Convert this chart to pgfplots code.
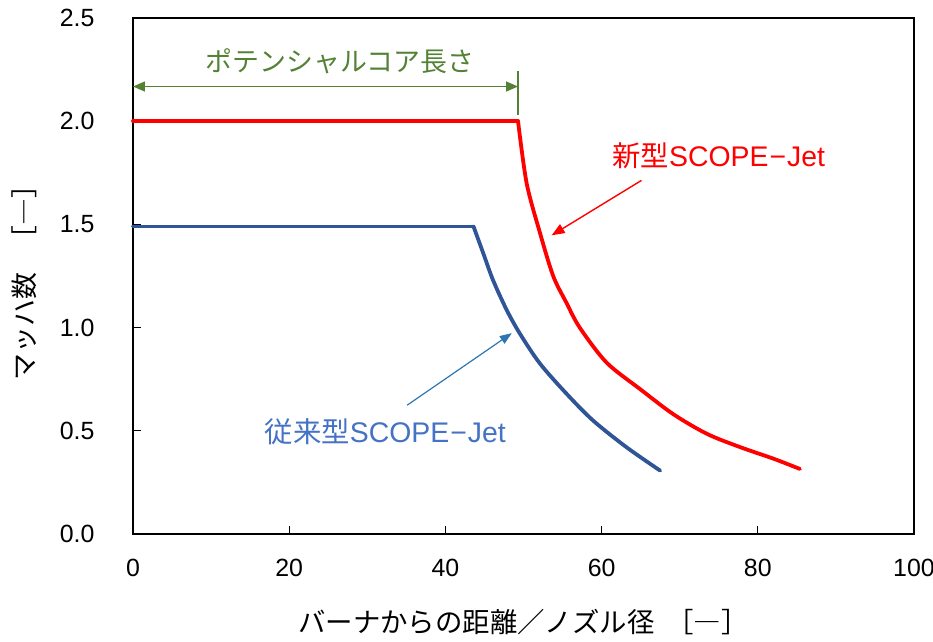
\documentclass[border=0pt]{standalone}
\usepackage{pgfplots}
\pgfplotsset{compat=1.18}
\usepackage{fontspec}
\setmainfont{Liberation Sans}
\newfontfamily\jp{Noto Sans CJK JP}
\usetikzlibrary{arrows.meta}
\definecolor{newred}{HTML}{FF0000}
\definecolor{oldblue}{HTML}{2F5597}
\definecolor{txtblue}{HTML}{4472C4}
\definecolor{arrblue}{HTML}{2E75B6}
\definecolor{grn}{HTML}{548235}
\begin{document}
\begin{tikzpicture}
\begin{axis}[
  name=ax,
  scale only axis,
  width=781bp, height=516bp,
  xmin=0, xmax=100, ymin=0, ymax=2.5,
  xtick={0,20,...,100},
  ytick={0,0.5,...,2.5},
  tick align=inside,
  major tick length=8bp,
  tick style={black, line width=1bp},
  axis line style={black, line width=2bp},
  xtick pos=bottom, ytick pos=left,
  /pgf/number format/assume math mode=true,
  ticklabel style={font=\fontsize{25}{30}\selectfont},
  xticklabel style={yshift=-22bp, /pgf/number format/fixed, /pgf/number format/precision=0},
  yticklabel style={xshift=-35bp, /pgf/number format/fixed, /pgf/number format/fixed zerofill, /pgf/number format/precision=1},
  xlabel={\jp\fontsize{27.5}{32}\selectfont バーナからの距離／ノズル径\hspace{12bp}［―］},
  ylabel={\jp\fontsize{27}{32}\selectfont マッハ数\hspace{20bp}［―］},
  xlabel style={yshift=-25bp},
  ylabel style={yshift=16bp},
  clip=false,
]
% Conventional SCOPE-Jet
\addplot[oldblue, line width=3.8bp, line cap=round] coordinates {
 (0,1.49) (43.6,1.49)
};
\addplot[oldblue, line width=3.8bp, line cap=round, smooth, tension=0.5] coordinates {
 (43.6,1.49) (44.85,1.36) (46.1,1.23) (47.85,1.085) (49.55,0.97)
 (52.1,0.826) (55.5,0.68) (58.9,0.55) (63.2,0.42) (67.5,0.307)
};
% New SCOPE-Jet
\addplot[newred, line width=3.8bp, line cap=round] coordinates {
 (0,2.0) (49.3,2.0)
};
\addplot[newred, line width=3.8bp, line cap=round, smooth, tension=0.5] coordinates {
 (49.3,2.0) (50.4,1.70) (52.1,1.46) (53.8,1.25) (55.5,1.12) (57.2,1.00)
 (60.65,0.83) (65.0,0.70) (69.2,0.58) (73.5,0.485) (77.8,0.42) (82.0,0.365) (85.4,0.315)
};
% potential core annotation
\draw[grn, line width=1.5bp, {Triangle[length=12bp,width=10bp]}-{Triangle[length=12bp,width=10bp]}]
  (axis cs:0,2.168) -- (axis cs:49.3,2.168);
\draw[grn, line width=1.5bp] (axis cs:49.3,2.245) -- (axis cs:49.3,2.03);
\node[grn, font=\jp\fontsize{27}{32}\selectfont] at (axis cs:26.5,2.29) {ポテンシャルコア長さ};
% labels
\node[newred, font=\fontsize{28.5}{34}\selectfont] at (axis cs:75.0,1.834) {{\jp 新型}SCOPE\kern1bp−\kern1bpJet};
\draw[newred, line width=1.4bp, -{Triangle[length=13bp,width=10bp]}]
  (axis cs:65.1,1.713) -- (axis cs:53.6,1.447);
\node[txtblue, font=\fontsize{28.5}{34}\selectfont] at (axis cs:32.3,0.494) {{\jp 従来型}SCOPE\kern1bp−\kern1bpJet};
\draw[arrblue, line width=1.2bp, -{Triangle[length=12bp,width=9bp]}]
  (axis cs:35.1,0.624) -- (axis cs:48.5,0.973);
\coordinate (ll) at (rel axis cs:0,0);
\coordinate (ur) at (rel axis cs:1,1);
\end{axis}
\pgfresetboundingbox
\useasboundingbox ([shift={(-133bp,-108bp)}]ll) rectangle ([shift={(19bp,18bp)}]ur);
\end{tikzpicture}
\end{document}
